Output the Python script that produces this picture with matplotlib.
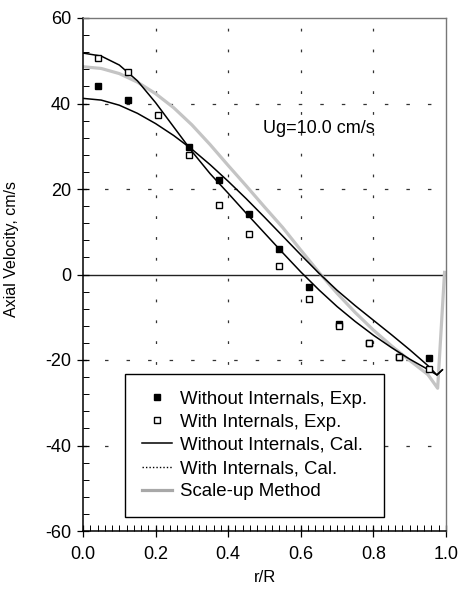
import matplotlib
matplotlib.use("Agg")
import matplotlib.pyplot as plt
from matplotlib.lines import Line2D
from matplotlib.ticker import MultipleLocator, FormatStrFormatter

plt.rcParams['font.family'] = ['Liberation Sans', 'DejaVu Sans']
plt.rcParams['axes.unicode_minus'] = False
plt.rcParams['lines.scale_dashes'] = False

# Experimental data
r_without_exp = [0.04, 0.123, 0.291, 0.375, 0.456, 0.54, 0.623, 0.706, 0.789, 0.871, 0.954]
v_without_exp = [44.0, 40.8, 29.8, 22.2, 14.2, 6.0, -3.0, -11.6, -16.0, -19.3, -19.6]
r_with_exp = [0.04, 0.123, 0.207, 0.291, 0.375, 0.456, 0.54, 0.623, 0.706, 0.789, 0.871, 0.954]
v_with_exp = [50.6, 47.4, 37.3, 27.9, 16.2, 9.4, 1.9, -5.8, -12.0, -16.1, -19.4, -22.2]

# Calculated profiles
r_cal = [0.0, 0.05, 0.10, 0.15, 0.20, 0.25, 0.30, 0.35, 0.40, 0.45, 0.50, 0.55,
         0.60, 0.65, 0.70, 0.75, 0.80, 0.85, 0.90, 0.95, 0.975, 0.99]
v_without_cal = [41.2, 40.8, 39.6, 37.7, 35.3, 32.5, 29.3, 25.7, 21.8, 17.7, 13.4, 9.0,
                 4.6, 0.3, -3.7, -7.3, -10.7, -14.1, -17.6, -21.3, -23.5, -22.3]
v_with_cal = [51.8, 51.1, 49.0, 45.3, 40.2, 34.5, 28.8, 23.6, 19.0, 14.3, 9.7, 5.1,
              0.6, -3.6, -7.5, -11.0, -14.2, -17.1, -19.8, -22.2, -23.5, -22.3]
r_scale = [0.0, 0.05, 0.10, 0.15, 0.20, 0.25, 0.30, 0.35, 0.40, 0.45, 0.50, 0.55,
           0.60, 0.65, 0.70, 0.75, 0.80, 0.85, 0.90, 0.95, 0.977, 0.996]
v_scale = [48.6, 48.2, 47.0, 45.0, 42.3, 39.0, 35.0, 30.4, 25.5, 20.7, 15.8, 11.0,
           5.7, 0.5, -4.4, -8.9, -13.0, -16.7, -20.1, -23.4, -26.6, 0.5]

x_ticks = [0.0, 0.2, 0.4, 0.6, 0.8, 1.0]
y_ticks = [-60, -40, -20, 0, 20, 40, 60]

fig = plt.figure(figsize=(4.61, 5.95), dpi=100)
ax = fig.add_axes([83/461, 1 - 531/595, (446 - 83)/461, (531 - 18)/595])

# grid
for gx in [0.2, 0.4, 0.6, 0.8]:
    ax.axvline(gx, color='#333333', lw=0.9, ls=(0, (2.0, 13.0)), zorder=1)
for gy in [-40, -20, 20, 40]:
    ax.axhline(gy, color='#333333', lw=0.9, ls=(0, (2.5, 13.0)), zorder=1)
ax.axhline(0, color='#222222', lw=1.0, zorder=1)

ax.plot(r_scale, v_scale, color='#c4c4c4', lw=2.3, zorder=2, solid_joinstyle='round')
ax.plot(r_cal, v_without_cal, color='black', lw=1.1, zorder=3, solid_joinstyle='round')
ax.plot(r_cal, v_with_cal, color='black', lw=1.1, zorder=3, solid_joinstyle='round')
ax.plot(r_without_exp, v_without_exp, ls='none', marker='s', ms=5, color='black', zorder=4)
ax.plot(r_with_exp, v_with_exp, ls='none', marker='s', ms=5, mfc='white', mec='black',
        mew=1.0, zorder=5)

ax.text(0.497, 34.2, 'Ug=10.0 cm/s', fontsize=13, ha='left', va='center')

ax.set_xlim(0, 1.0)
ax.set_ylim(-60, 60)
ax.set_xticks(x_ticks)
ax.set_yticks(y_ticks)
ax.xaxis.set_major_formatter(FormatStrFormatter('%.1f'))
ax.yaxis.set_major_formatter(FormatStrFormatter('%d'))
ax.xaxis.set_minor_locator(MultipleLocator(0.02))
ax.yaxis.set_minor_locator(MultipleLocator(4))
ax.tick_params(which='major', direction='inout', length=9, width=0.9, labelsize=13,
               top=False, right=False)
ax.tick_params(which='minor', direction='in', length=4, width=0.7, top=False, right=False)
ax.tick_params(axis='x', which='major', pad=6)
ax.tick_params(axis='y', which='major', pad=4)

for s in ['left', 'bottom']:
    ax.spines[s].set_linewidth(1.1)
    ax.spines[s].set_color('black')
for s in ['top', 'right']:
    ax.spines[s].set_linewidth(1.0)
    ax.spines[s].set_color('#777777')

ax.set_xlabel('r/R', fontsize=12, labelpad=5)
ax.set_ylabel('Axial Velocity, cm/s', fontsize=11.5)
ax.yaxis.set_label_coords(-0.175, 0.55)

handles = [
    Line2D([], [], ls='none', marker='s', ms=5, color='black'),
    Line2D([], [], ls='none', marker='s', ms=5, mfc='white', mec='black', mew=1.0),
    Line2D([], [], color='black', lw=1.1),
    Line2D([], [], color='black', lw=1.0, ls=(0, (1, 1.5))),
    Line2D([], [], color='#a8a8a8', lw=2.3),
]
labels = ['Without Internals, Exp.', 'With Internals, Exp.', 'Without Internals, Cal.',
          'With Internals, Cal.', 'Scale-up Method']
leg = ax.legend(handles, labels, loc='lower left',
                bbox_to_anchor=((125 - 83)/363, (531 - 517)/513), borderaxespad=0,
                fontsize=13.4, frameon=True, fancybox=False, edgecolor='black',
                handlelength=1.6, handletextpad=0.45, borderpad=0.9, labelspacing=0.33)
leg.get_frame().set_linewidth(1.0)
leg.get_frame().set_alpha(1)
leg.set_zorder(6)

fig.savefig('out.png', dpi=100)
